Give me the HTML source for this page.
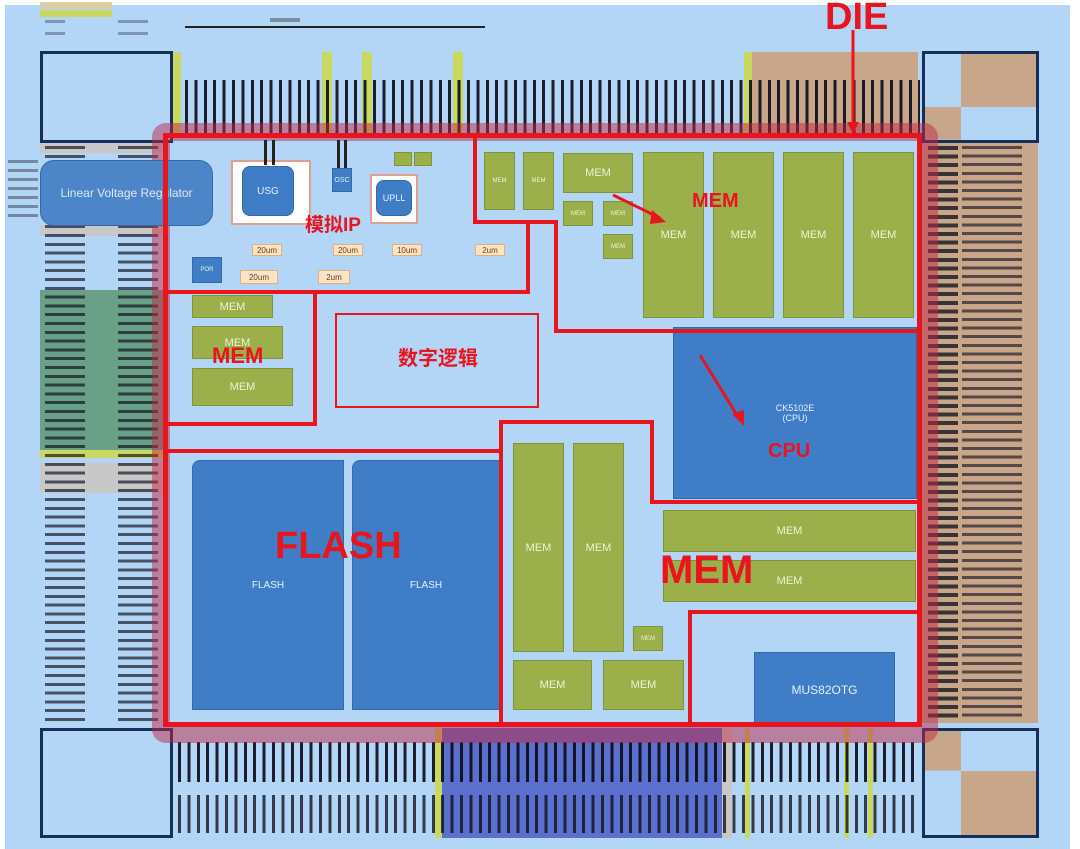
<!DOCTYPE html>
<html><head><meta charset="utf-8"><style>
*{margin:0;padding:0;box-sizing:border-box}
body{width:1080px;height:849px;background:#fff;position:relative;overflow:hidden;font-family:"Liberation Sans","Noto Sans CJK SC",sans-serif}
.a{position:absolute}
.g{position:absolute;background:#9bb04a;border:1px solid #7e9438;color:#eef3d6;font-size:11px;display:flex;align-items:center;justify-content:center}
.b{position:absolute;background:#3f7ec6;border:1px solid #3468a8;color:#e6eefa;font-size:10px;display:flex;align-items:center;justify-content:center}
.r{position:absolute;background:#e8141e}
.lbl{position:absolute;color:#e8141e;font-weight:bold}
.vp{background:repeating-linear-gradient(90deg,transparent 0 3px,rgba(10,10,25,.9) 3px 6px,transparent 6px 9.4px)}
.hpL{background:repeating-linear-gradient(180deg,rgba(20,20,40,.55) 0 3px,transparent 3px 12px)}
.t{position:absolute;background:#fbe3c4;border:1px solid #e0b080;font-size:8px;color:#704020;display:flex;align-items:center;justify-content:center}
</style></head><body>
<div class="a" style="left:5px;top:5px;width:1065px;height:844px;background:#b4d6f6"></div>

<div class="a" style="left:40px;top:2px;width:72px;height:7px;background:#d8cfa8"></div>
<div class="a" style="left:40px;top:10px;width:72px;height:7px;background:#c8d860"></div>
<div class="a hpL" style="left:45px;top:20px;width:20px;height:24px;opacity:.6"></div>
<div class="a hpL" style="left:118px;top:20px;width:30px;height:24px;opacity:.6"></div>
<div class="a" style="left:185px;top:26px;width:300px;height:2px;background:#222"></div>
<div class="a" style="left:270px;top:18px;width:30px;height:4px;background:#444;opacity:.5"></div>

<div class="a" style="left:40px;top:51px;width:133px;height:92px;border:3px solid #14305a"></div>
<div class="a" style="left:922px;top:51px;width:117px;height:92px;border:3px solid #14305a;background:linear-gradient(90deg,transparent 0 36px,#c8a68a 36px) top/100% 62% no-repeat,linear-gradient(90deg,#c8a68a 0 36px,transparent 36px) bottom/100% 38% no-repeat"></div>
<div class="a" style="left:40px;top:728px;width:133px;height:110px;border:3px solid #14305a"></div>
<div class="a" style="left:922px;top:728px;width:117px;height:110px;border:3px solid #14305a;background:linear-gradient(90deg,#c8a68a 0 36px,transparent 36px) top/100% 38% no-repeat,linear-gradient(90deg,transparent 0 36px,#c8a68a 36px) bottom/100% 62% no-repeat"></div>

<div class="a" style="left:752px;top:52px;width:166px;height:84px;background:#c8a68a"></div>
<div class="a" style="left:173px;top:52px;width:8px;height:84px;background:#c8d860"></div>
<div class="a" style="left:322px;top:52px;width:10px;height:84px;background:#c8d860"></div>
<div class="a" style="left:362px;top:52px;width:10px;height:84px;background:#c8d860"></div>
<div class="a" style="left:453px;top:52px;width:10px;height:84px;background:#c8d860"></div>
<div class="a" style="left:744px;top:52px;width:8px;height:84px;background:#c8d860"></div>
<div class="a vp" style="left:182px;top:80px;width:738px;height:56px"></div>

<div class="a" style="left:922px;top:143px;width:116px;height:580px;background:#c8a68a"></div>
<div class="a" style="left:928px;top:146px;width:30px;height:575px;background:repeating-linear-gradient(180deg,rgba(10,10,25,.75) 0 4px,transparent 4px 8.6px)"></div>
<div class="a" style="left:962px;top:146px;width:60px;height:575px;background:repeating-linear-gradient(180deg,rgba(10,10,25,.6) 0 3px,transparent 3px 8.6px)"></div>

<div class="a" style="left:40px;top:290px;width:126px;height:160px;background:#6aa088"></div>
<div class="a" style="left:40px;top:143px;width:126px;height:10px;background:#c8c8c8"></div>
<div class="a" style="left:40px;top:226px;width:126px;height:10px;background:#c8c8c8"></div>
<div class="a" style="left:40px;top:463px;width:126px;height:30px;background:#c8c8c8"></div>
<div class="a" style="left:40px;top:450px;width:126px;height:8px;background:#c8d860"></div>
<div class="a" style="left:45px;top:146px;width:40px;height:575px;background:repeating-linear-gradient(180deg,rgba(10,10,25,.65) 0 3px,transparent 3px 8.8px)"></div>
<div class="a" style="left:118px;top:146px;width:40px;height:575px;background:repeating-linear-gradient(180deg,rgba(10,10,25,.65) 0 3px,transparent 3px 8.8px)"></div>
<div class="a" style="left:8px;top:160px;width:30px;height:60px;background:repeating-linear-gradient(180deg,rgba(20,20,40,.4) 0 3px,transparent 3px 9px)"></div>

<div class="a" style="left:440px;top:728px;width:282px;height:110px;background:#5b6fcc"></div>
<div class="a" style="left:435px;top:728px;width:7px;height:110px;background:#c8d860"></div>
<div class="a" style="left:722px;top:728px;width:10px;height:110px;background:#c8c8c8"></div>
<div class="a" style="left:745px;top:728px;width:5px;height:110px;background:#c8d860"></div>
<div class="a" style="left:844px;top:728px;width:5px;height:110px;background:#c8d860"></div>
<div class="a" style="left:868px;top:728px;width:5px;height:110px;background:#c8d860"></div>
<div class="a vp" style="left:175px;top:742px;width:745px;height:40px"></div>
<div class="a vp" style="left:175px;top:795px;width:745px;height:38px;opacity:.85"></div>

<div class="a" style="left:152px;top:123px;width:786px;height:620px;border:18px solid rgba(190,40,70,.5);border-radius:14px"></div>

<div class="a" style="left:40px;top:160px;width:173px;height:66px;background:#4d86c8;border:1px solid #3468a8;border-radius:14px;color:#dce8f6;font-size:12px;display:flex;align-items:center;justify-content:center">Linear Voltage Regulator</div>

<div class="a" style="left:231px;top:160px;width:80px;height:65px;background:#fff;border:2px solid #e0a090"></div>
<div class="b" style="left:242px;top:166px;width:52px;height:50px;border-radius:8px">USG</div>
<div class="b" style="left:332px;top:168px;width:20px;height:24px;font-size:7px">OSC</div>
<div class="a" style="left:370px;top:174px;width:48px;height:50px;background:#fff;border:2px solid #e0a090"></div>
<div class="b" style="left:376px;top:180px;width:36px;height:36px;border-radius:8px;font-size:9px">UPLL</div>
<div class="g" style="left:394px;top:152px;width:18px;height:14px"></div>
<div class="g" style="left:414px;top:152px;width:18px;height:14px"></div>
<div class="b" style="left:192px;top:257px;width:30px;height:26px;font-size:6px">POR</div>
<div class="a" style="left:264px;top:140px;width:3px;height:25px;background:#222"></div>
<div class="a" style="left:272px;top:140px;width:3px;height:25px;background:#222"></div>
<div class="a" style="left:337px;top:140px;width:3px;height:28px;background:#222"></div>
<div class="a" style="left:344px;top:140px;width:3px;height:28px;background:#222"></div>
<div class="t" style="left:252px;top:244px;width:30px;height:12px">20um</div>
<div class="t" style="left:333px;top:244px;width:30px;height:12px">20um</div>
<div class="t" style="left:392px;top:244px;width:30px;height:12px">10um</div>
<div class="t" style="left:475px;top:244px;width:30px;height:12px">2um</div>
<div class="t" style="left:240px;top:270px;width:38px;height:14px">20um</div>
<div class="t" style="left:318px;top:270px;width:32px;height:14px">2um</div>
<div class="lbl" style="left:305px;top:210px;font-size:19px">模拟IP</div>

<div class="g" style="left:484px;top:152px;width:31px;height:58px;font-size:6px">MEM</div>
<div class="g" style="left:523px;top:152px;width:31px;height:58px;font-size:6px">MEM</div>
<div class="g" style="left:563px;top:153px;width:70px;height:40px">MEM</div>
<div class="g" style="left:563px;top:201px;width:30px;height:25px;font-size:6px">MEM</div>
<div class="g" style="left:603px;top:201px;width:30px;height:25px;font-size:6px">MEM</div>
<div class="g" style="left:603px;top:234px;width:30px;height:25px;font-size:6px">MEM</div>
<div class="g" style="left:643px;top:152px;width:61px;height:166px">MEM</div>
<div class="g" style="left:713px;top:152px;width:61px;height:166px">MEM</div>
<div class="g" style="left:783px;top:152px;width:61px;height:166px">MEM</div>
<div class="g" style="left:853px;top:152px;width:61px;height:166px">MEM</div>
<div class="lbl" style="left:692px;top:190px;font-size:20px">MEM</div>

<div class="g" style="left:192px;top:295px;width:81px;height:23px">MEM</div>
<div class="g" style="left:192px;top:326px;width:91px;height:33px">MEM</div>
<div class="g" style="left:192px;top:368px;width:101px;height:38px">MEM</div>
<div class="lbl" style="left:212px;top:343px;font-size:22px">MEM</div>

<div class="a" style="left:335px;top:313px;width:204px;height:95px;border:2px solid #e8141e"></div>
<div class="lbl" style="left:398px;top:342px;font-size:20px">数字逻辑</div>

<div class="b" style="left:673px;top:327px;width:244px;height:172px;flex-direction:column;font-size:9px"><div>CK5102E</div><div>(CPU)</div></div>
<div class="lbl" style="left:768px;top:440px;font-size:20px">CPU</div>

<div class="b" style="left:192px;top:460px;width:152px;height:250px;border-radius:8px 0 0 0">FLASH</div>
<div class="b" style="left:352px;top:460px;width:148px;height:250px;border-radius:8px 0 0 0">FLASH</div>
<div class="lbl" style="left:275px;top:525px;font-size:38px">FLASH</div>

<div class="g" style="left:513px;top:443px;width:51px;height:209px">MEM</div>
<div class="g" style="left:573px;top:443px;width:51px;height:209px">MEM</div>
<div class="g" style="left:663px;top:510px;width:253px;height:42px">MEM</div>
<div class="g" style="left:663px;top:560px;width:253px;height:42px">MEM</div>
<div class="g" style="left:633px;top:626px;width:30px;height:25px;font-size:6px">MEM</div>
<div class="g" style="left:513px;top:660px;width:79px;height:50px">MEM</div>
<div class="g" style="left:603px;top:660px;width:81px;height:50px">MEM</div>
<div class="lbl" style="left:660px;top:548px;font-size:40px">MEM</div>
<div class="b" style="left:754px;top:652px;width:141px;height:75px;font-size:12px">MUS82OTG</div>

<div class="r" style="left:163px;top:133px;width:759px;height:5px"></div>
<div class="r" style="left:163px;top:722px;width:759px;height:5px"></div>
<div class="r" style="left:163px;top:133px;width:5px;height:594px"></div>
<div class="r" style="left:917px;top:133px;width:5px;height:594px"></div>
<div class="r" style="left:165px;top:290px;width:365px;height:4px"></div>
<div class="r" style="left:526px;top:220px;width:4px;height:74px"></div>
<div class="r" style="left:473px;top:135px;width:4px;height:89px"></div>
<div class="r" style="left:473px;top:220px;width:85px;height:4px"></div>
<div class="r" style="left:554px;top:220px;width:4px;height:113px"></div>
<div class="r" style="left:554px;top:329px;width:366px;height:4px"></div>
<div class="r" style="left:313px;top:292px;width:4px;height:134px"></div>
<div class="r" style="left:165px;top:422px;width:152px;height:4px"></div>
<div class="r" style="left:165px;top:449px;width:337px;height:4px"></div>
<div class="r" style="left:499px;top:420px;width:4px;height:305px"></div>
<div class="r" style="left:499px;top:420px;width:155px;height:4px"></div>
<div class="r" style="left:650px;top:420px;width:4px;height:84px"></div>
<div class="r" style="left:650px;top:500px;width:270px;height:4px"></div>
<div class="r" style="left:688px;top:610px;width:232px;height:4px"></div>
<div class="r" style="left:688px;top:610px;width:4px;height:115px"></div>

<svg class="a" style="left:0;top:0" width="1080" height="849">
<g stroke="#e8141e" stroke-width="3" fill="#e8141e">
<line x1="853" y1="30" x2="853" y2="130"/><polygon points="847,122 859,122 853,134" stroke="none"/>
<line x1="613" y1="195" x2="660" y2="218"/><polygon points="652,210 666,222 650,224" stroke="none"/>
<line x1="700" y1="355" x2="740" y2="420"/><polygon points="732,414 744,426 744,410" stroke="none"/>
</g></svg>
<div class="lbl" style="left:825px;top:-4px;font-size:38px">DIE</div>
</body></html>
